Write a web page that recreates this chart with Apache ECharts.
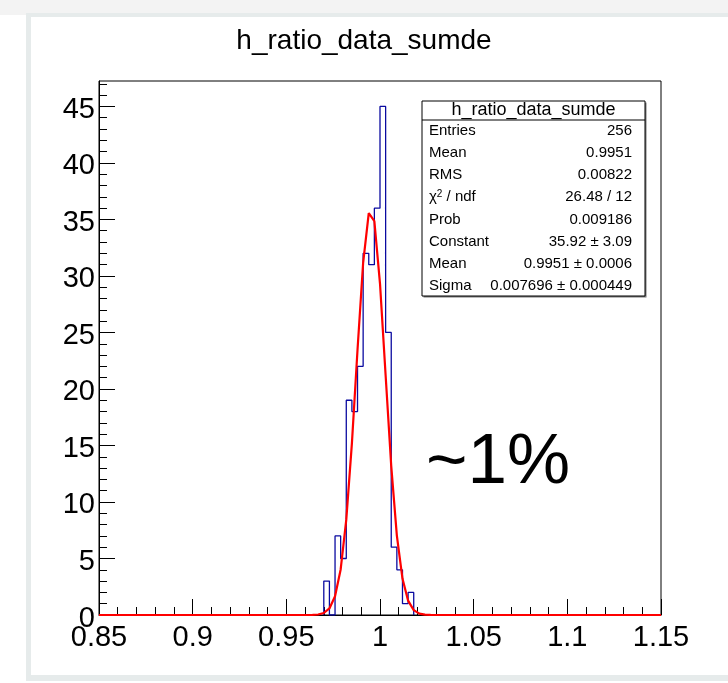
<!DOCTYPE html>
<html>
<head>
<meta charset="utf-8">
<script src="https://cdn.jsdelivr.net/npm/echarts@6/dist/echarts.min.js"></script>
<style>
  html, body { margin: 0; padding: 0; background: #ffffff; }
  #chart { width: 728px; height: 683px; }
</style>
</head>
<body>
<div id="chart"></div>
<script>
// Histogram h_ratio_data_sumde: 100 bins on [0.85, 1.15]
const histLow = 0.85;
const histHigh = 1.15;
const binWidth = 0.003;
// lower edge of the first filled bin, then the counts of consecutive bins
const filledFrom = 0.970;
const binCounts = [3, 0, 7, 5, 19, 18, 22, 32, 31, 36, 45, 25, 6, 4, 1, 2];

// Gaussian fit parameters
const fitConstant = 35.92;
const fitMean = 0.9951;
const fitSigma = 0.007696;
const fitSamples = 100;

// Axis ticks
const xTickStep = 0.05;
const yMax = 47.25;
const yMajorTicks = [0, 5, 10, 15, 20, 25, 30, 35, 40, 45];
const yMinorTicks = [0, 1, 2, 3, 4, 5, 6, 7, 8, 9, 10, 11, 12, 13, 14, 15, 16, 17, 18, 19, 20,
  21, 22, 23, 24, 25, 26, 27, 28, 29, 30, 31, 32, 33, 34, 35, 36, 37, 38, 39, 40, 41, 42, 43, 44, 45, 46, 47];

// Statistics box
const statsTitle = 'h_ratio_data_sumde';
const statsNames = ['Entries', 'Mean', 'RMS', 'χ{sup|2} / ndf', 'Prob', 'Constant', 'Mean', 'Sigma'];
const statsValues = ['256', '0.9951', '0.00822', '26.48 / 12', '0.009186', '35.92 ± 3.09', '0.9951 ± 0.0006', '0.007696 ± 0.000449'];

const annotation = '~1%';

// ---- build series data ----
const r6 = v => Math.round(v * 1e6) / 1e6;
const histOutline = [[filledFrom, 0]];
binCounts.forEach((c, i) => {
  histOutline.push([r6(filledFrom + i * binWidth), c]);
  histOutline.push([r6(filledFrom + (i + 1) * binWidth), c]);
});
histOutline.push([r6(filledFrom + binCounts.length * binWidth), 0]);

const fitCurve = [];
for (let j = 0; j <= fitSamples; j++) {
  const x = histLow + j * (histHigh - histLow) / fitSamples;
  const z = (x - fitMean) / fitSigma;
  fitCurve.push([x, fitConstant * Math.exp(-0.5 * z * z)]);
}

const FONT = '"Liberation Sans", Arial, Helvetica, sans-serif';
const chart = echarts.init(document.getElementById('chart'), null, { renderer: 'canvas' });

// stats box graphics
const box = { x: 422, y: 101, w: 223, h: 195 };
const rowTop = 131, rowStep = 22.1;
const statsGraphics = [
  { type: 'rect', z: 10, shape: { x: box.x + 1.5, y: box.y + 1.5, width: box.w, height: box.h },
    style: { fill: '#777', stroke: null } },
  { type: 'rect', z: 11, shape: { x: box.x, y: box.y, width: box.w, height: box.h },
    style: { fill: '#fff', stroke: '#000', lineWidth: 1 } },
  { type: 'line', z: 12, shape: { x1: box.x, y1: 120, x2: box.x + box.w, y2: 120 },
    style: { stroke: '#000', lineWidth: 1 } },
  { type: 'text', z: 12, style: { x: box.x + box.w / 2, y: 110, text: statsTitle, font: '18px ' + FONT,
    fill: '#000', align: 'center', verticalAlign: 'middle' } }
];
statsNames.forEach((n, i) => {
  statsGraphics.push({ type: 'text', z: 12, style: {
    x: 429, y: rowTop + i * rowStep, text: n, fill: '#000', align: 'left', verticalAlign: 'middle',
    font: '15px ' + FONT,
    rich: { sup: { fontSize: 10, verticalAlign: 'top', padding: [0, 0, 7, 0], fontFamily: FONT } }
  } });
  statsGraphics.push({ type: 'text', z: 12, style: {
    x: 632, y: rowTop + i * rowStep, text: statsValues[i], fill: '#000', align: 'right',
    verticalAlign: 'middle', font: '15px ' + FONT } });
});

const option = {
  animation: false,
  backgroundColor: '#ffffff',
  title: {
    text: 'h_ratio_data_sumde', left: 'center', top: 22,
    textStyle: { fontFamily: FONT, fontSize: 28, fontWeight: 'normal', color: '#000' }
  },
  grid: { left: 99, right: 67, top: 81, bottom: 68, show: true, borderColor: '#000', borderWidth: 1,
    backgroundColor: 'transparent' },
  xAxis: {
    type: 'value', min: histLow, max: histHigh, interval: xTickStep,
    axisLine: { show: true, lineStyle: { color: '#000', width: 1 } },
    axisTick: { show: true, inside: true, length: 16, lineStyle: { color: '#000' } },
    minorTick: { show: true, splitNumber: 5, length: 8, lineStyle: { color: '#000' } },
    splitLine: { show: false },
    axisLabel: { color: '#000', fontSize: 29, fontFamily: FONT, margin: 8,
      formatter: v => String(parseFloat(v.toFixed(2))) }
  },
  yAxis: [
    {
      type: 'value', min: 0, max: yMax,
      axisLine: { show: true, lineStyle: { color: '#000', width: 1 } },
      axisTick: { show: true, inside: true, length: 16, customValues: yMajorTicks, lineStyle: { color: '#000' } },
      axisLabel: { color: '#000', fontSize: 29, fontFamily: FONT, margin: 4, customValues: yMajorTicks,
        formatter: v => '{n|' + v + '}',
        rich: { n: { fontSize: 29, fontFamily: FONT, color: '#000', padding: [7, 0, 0, 0] } } },
      splitLine: { show: false }
    },
    {
      type: 'value', min: 0, max: yMax, position: 'left',
      axisLine: { show: false },
      axisTick: { show: true, inside: true, length: 8, customValues: yMinorTicks, lineStyle: { color: '#000' } },
      axisLabel: { show: false },
      splitLine: { show: false }
    }
  ],
  series: [
    {
      name: 'h_ratio_data_sumde', type: 'line', data: histOutline, showSymbol: false, symbol: 'none',
      lineStyle: { color: '#0a0aa0', width: 1.3 }, z: 3, silent: true
    },
    {
      name: 'gaus', type: 'line', data: fitCurve, showSymbol: false, symbol: 'none', smooth: false,
      lineStyle: { color: '#ff0000', width: 2.2 }, z: 4, silent: true
    }
  ],
  graphic: [
    // canvas window frame
    { type: 'rect', z: -10, silent: true, shape: { x: 0, y: 0, width: 728, height: 15 }, style: { fill: '#f3f3f3' } },
    { type: 'rect', z: -9, silent: true, shape: { x: 26, y: 13, width: 710, height: 668 }, style: { fill: '#e6ebeb' } },
    { type: 'rect', z: -8, silent: true, shape: { x: 31, y: 17, width: 700, height: 658 }, style: { fill: '#ffffff' } },
    ...statsGraphics,
    { type: 'text', z: 12, style: { x: 498, y: 463, text: annotation, font: '71px ' + FONT, fill: '#000',
      align: 'center', verticalAlign: 'middle' } }
  ]
};
chart.setOption(option);
</script>
</body>
</html>
